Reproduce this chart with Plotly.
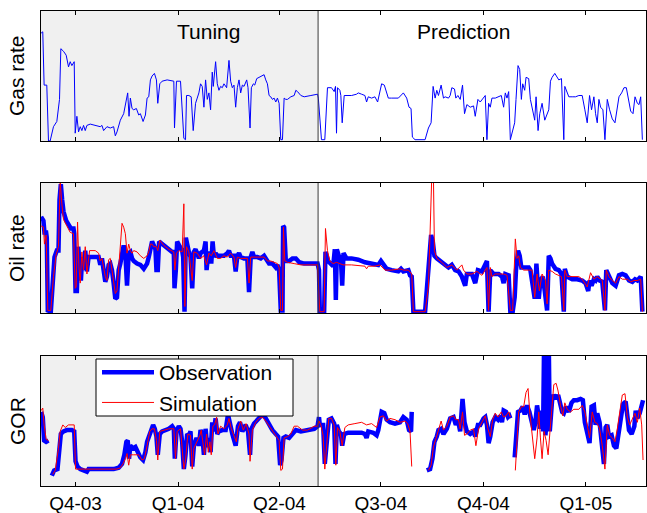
import pandas as pd
import plotly.graph_objects as go

# ---------------- data (day offset since 2003-08-31, value in % of panel scale) -------------
start_date = "2003-08-31"
tuning_end = "2004-05-05 16:00"
x_end = "2005-02-23 23:00"

tick_dates = ["2003-10-01", "2004-01-01", "2004-04-01", "2004-07-01", "2004-10-01", "2005-01-01"]
tick_labels = ["Q4-03", "Q1-04", "Q2-04", "Q3-04", "Q4-04", "Q1-05"]

panel_titles = ["Gas rate", "Oil rate", "GOR"]
phase_labels = ["Tuning", "Prediction"]
series_names = ["Observation", "Simulation"]

gas_rate = [(0.1,83),(1.6,84),(2.8,43),(5.2,43),(6.7,0),(8.2,0),(11.2,11),(14.2,15),(16.6,32),(17.8,71),(20.2,69),(22.6,66),(24.7,57),(26.2,61),(27.7,58),(29.2,60),(29.8,61),(30.7,6),(32.2,19),(33.7,7),(35.2,11),(36.7,8),(38.2,12),(39.7,8),(41.2,12),(44.2,13),(50.2,12),(53.2,11),(54.7,12),(56.2,8),(59.2,11),(62.2,10),(65.2,11),(66.7,4),(68.2,7),(71.2,16),(74.2,21),(76.6,32),(77.8,37),(79.0,19),(80.2,33),(81.7,25),(83.2,24),(85.6,25),(87.7,20),(89.2,21),(91.6,15),(93.7,20),(95.2,33),(96.7,34),(98.2,47),(99.7,50),(101.8,52),(103.6,47),(104.8,29),(106.6,44),(108.7,46),(113.2,47),(117.7,46),(119.2,46),(119.8,10),(121.6,46),(125.2,46),(126.7,21),(128.2,2),(129.7,1),(130.6,35),(132.7,35),(134.8,34),(136.6,8),(138.7,29),(140.2,33),(141.7,37),(143.2,44),(144.7,42),(146.2,26),(147.7,47),(149.2,32),(150.7,37),(152.2,24),(153.7,53),(154.6,42),(156.7,61),(158.2,44),(159.7,39),(161.2,42),(162.7,41),(164.2,44),(166.6,41),(168.7,62),(170.2,46),(171.7,41),(173.2,43),(174.7,26),(176.2,41),(177.7,47),(179.2,37),(180.7,43),(182.2,42),(184.6,47),(185.8,41),(187.6,10),(188.8,41),(190.6,44),(191.8,43),(193.6,48),(195.7,49),(198.7,50),(200.2,51),(201.7,47),(203.2,44),(204.7,35),(206.2,34),(207.7,32),(209.2,33),(210.7,30),(212.2,33),(213.7,29),(215.2,1),(216.7,1),(218.2,33),(219.7,32),(221.2,32),(224.2,34),(227.2,35),(228.7,39),(230.2,38),(233.2,35),(236.2,34),(242.2,35),(248.2,36),
            (248.9,33),(251.7,1),(254.7,1),(257.1,41),(260.7,41),(263.1,38),(264.3,42),(265.2,6),(266.1,41),(268.2,39),(269.1,35),(270.3,14),(272.1,35),(278.7,35),(283.2,36),(284.7,37),(287.7,36),(290.7,35),(292.2,30),(293.7,34),(296.7,33),(299.7,34),(302.1,30),(303.6,35),(305.7,44),(308.1,43),(309.3,39),(311.7,33),(314.7,33),(320.7,33),(325.2,37),(328.2,33),(330.3,26),(332.1,25),(333.3,3),(335.7,1),(344.7,1),(347.7,10),(350.1,14),(351.9,42),(353.7,33),(355.2,39),(356.7,35),(359.1,43),(361.2,33),(362.7,34),(365.7,33),(367.2,35),(368.7,41),(371.1,40),(372.3,33),(374.1,35),(376.2,32),(378.3,43),(380.1,21),(382.2,28),(385.2,26),(388.2,27),(389.7,19),(392.1,32),(394.2,30),(397.2,34),(398.7,35),(400.2,1),(401.7,29),(403.2,26),(404.7,33),(407.7,33),(410.7,34),(413.1,35),(415.2,26),(416.7,37),(418.2,33),(419.7,38),(421.2,1),(423.3,7),(425.1,14),(426.3,32),(428.1,58),(429.6,55),(431.1,32),(432.3,44),(434.1,39),(435.3,49),(437.7,48),(439.2,32),(440.7,26),(443.1,16),(444.3,34),(446.1,8),(447.6,21),(449.7,29),(452.1,16),(454.2,20),(455.7,24),(457.2,46),(458.7,49),(461.1,52),(463.2,49),(464.7,47),(467.1,48),(469.2,1),(470.1,42),(472.2,37),(473.7,34),(476.7,34),(479.7,34),(482.7,35),(485.7,35),(488.1,24),(490.2,14),(492.3,35),(494.1,24),(496.2,34),(497.7,21),(499.2,14),(500.7,32),(502.2,26),(504.3,24),(506.1,1),(508.2,32),(510.3,24),(512.7,17),(515.1,14),(517.2,24),(518.7,34),(521.1,37),(523.2,41),(525.3,41),(527.1,32),(529.2,23),(531.3,21),(533.1,34),(535.2,29),(536.7,28),(538.2,34),(539.7,1)]

oil_obs = [(0.1,74),(2.2,71),(3.1,62),(4.6,62),(5.2,58),(6.1,2),(8.8,1),(10.6,25),(12.1,43),(14.2,48),(15.7,48),(16.6,87),(17.8,99),(19.0,87),(20.2,78),(22.6,71),(24.7,67),(26.8,65),(29.2,65),(29.8,61),(31.0,17),(32.2,17),(33.4,51),(34.6,33),(35.8,25),(37.0,43),(38.2,33),(39.7,48),(41.2,32),(42.7,43),(44.2,43),(47.2,43),(51.7,43),(53.2,37),(54.7,42),(56.2,33),(57.7,24),(59.2,28),(60.7,37),(62.2,38),(63.7,33),(65.2,23),(66.7,11),(68.2,12),(69.7,33),(71.2,38),(72.7,44),(74.2,52),(75.7,46),(77.2,21),(78.7,46),(80.2,47),(81.7,42),(83.2,40),(86.2,38),(89.2,37),(92.2,34),(95.2,38),(96.7,43),(98.2,51),(99.7,55),(101.2,52),(102.7,49),(103.6,33),(104.8,33),(106.0,55),(108.7,53),(111.7,51),(114.7,49),(117.7,47),(119.2,47),(119.8,19),(121.0,33),(122.2,55),(124.6,51),(126.7,48),(127.6,43),(128.8,1),(130.0,58),(131.2,51),(132.7,47),(134.2,43),(135.7,19),(137.2,47),(138.7,49),(140.2,46),(141.7,42),(143.2,46),(144.7,47),(146.2,48),(147.7,55),(148.6,33),(149.8,43),(151.6,47),(152.8,38),(154.0,55),(155.2,43),(156.7,46),(158.2,44),(161.2,44),(164.2,44),(167.2,46),(168.7,48),(170.2,44),(173.2,44),(174.7,32),(176.2,44),(177.7,46),(179.2,43),(182.2,42),(185.2,42),(186.7,16),(188.2,43),(189.7,47),(191.2,43),(194.2,43),(197.2,42),(200.2,44),(203.2,40),(204.7,38),(207.7,38),(210.7,35),(212.2,37),(213.7,33),(215.2,2),(216.7,2),(217.3,67),(218.2,66),(219.7,40),(222.7,40),(225.7,42),(228.7,42),(231.7,39),(236.2,38),(242.2,38),(248.2,38),(249.5,33),(250.2,1),(254.1,1),(255.3,47),(257.7,40),(260.7,38),(262.2,36),(263.7,49),(264.6,10),(265.5,49),(267.3,44),(269.1,42),(270.3,21),(271.5,46),(274.2,42),(278.7,42),(284.7,41),(290.7,39),(296.7,38),(302.7,37),(305.1,40),(307.2,37),(310.2,34),(314.7,33),(320.7,32),(323.1,34),(325.2,32),(329.7,33),(331.2,29),(332.7,28),(334.2,1),(344.7,1),(346.2,15),(348.3,43),(350.1,60),(351.6,55),(353.1,44),(355.2,42),(358.2,40),(361.2,37),(365.7,35),(368.7,37),(371.7,33),(374.7,32),(377.7,28),(380.7,21),(382.2,30),(386.7,30),(389.7,23),(392.1,33),(395.7,32),(400.2,40),(401.7,1),(403.2,33),(406.2,30),(410.7,30),(413.7,28),(415.2,23),(416.7,30),(419.7,29),(421.2,1),(423.3,1),(425.1,12),(426.3,33),(428.1,48),(429.6,44),(431.1,35),(434.7,35),(437.7,35),(439.2,33),(440.7,23),(443.1,11),(444.6,38),(446.7,11),(448.2,25),(450.3,28),(452.1,17),(454.2,2),(455.7,44),(457.2,42),(458.7,38),(461.7,34),(464.7,33),(467.1,30),(469.2,1),(470.1,34),(472.2,28),(476.7,26),(481.2,26),(485.7,25),(488.7,23),(491.1,17),(492.3,25),(494.1,21),(496.2,26),(497.7,25),(499.2,28),(501.3,25),(503.7,24),(506.1,2),(507.3,33),(509.7,28),(512.7,23),(515.7,21),(518.7,29),(521.7,30),(524.7,29),(527.7,25),(530.7,24),(533.1,26),(535.2,25),(538.2,28),(539.7,1)]

oil_sim = [(0.1,67),(2.2,66),(3.1,53),(4.6,60),(6.1,2),(8.8,2),(11.2,28),(13.6,45),(15.7,51),(17.2,102),(18.7,84),(20.2,72),(23.2,67),(26.2,62),(29.2,61),(30.7,19),(31.6,20),(32.8,70),(34.0,36),(35.2,23),(36.7,47),(38.2,33),(39.7,51),(41.2,30),(43.6,48),(45.7,48),(48.7,48),(51.7,46),(53.2,40),(54.7,42),(56.2,33),(57.7,28),(59.2,25),(60.7,41),(62.2,42),(63.7,33),(65.2,25),(66.7,15),(68.2,17),(69.7,35),(71.2,51),(72.7,69),(74.2,66),(75.7,61),(77.2,46),(78.7,53),(80.2,48),(81.7,46),(83.2,48),(86.2,47),(89.2,44),(92.2,42),(95.2,44),(96.7,47),(98.2,53),(99.7,53),(101.2,51),(103.6,51),(104.8,48),(106.6,56),(110.2,52),(114.7,49),(119.2,47),(120.1,33),(121.6,46),(123.7,48),(126.7,47),(128.2,84),(129.1,5),(130.6,51),(132.7,47),(135.7,25),(137.2,47),(140.2,46),(143.2,42),(146.2,44),(148.6,37),(150.7,46),(152.8,44),(155.2,48),(158.2,42),(161.2,42),(164.2,44),(167.2,43),(170.2,46),(173.2,43),(174.7,35),(176.2,43),(179.2,42),(185.2,42),(186.7,23),(188.2,43),(194.2,43),(200.2,43),(203.2,40),(206.2,40),(209.2,39),(212.2,38),(213.7,35),(215.2,2),(216.7,2),(217.6,66),(218.8,40),(221.2,39),(227.2,38),(233.2,37),(242.2,37),(248.2,37),(250.2,1),(254.1,1),(255.3,65),(257.1,48),(259.2,40),(262.2,38),(265.2,39),(268.2,38),(271.2,37),(278.7,37),(290.7,36),(292.2,34),(293.7,36),(299.7,36),(304.2,37),(308.7,33),(314.7,33),(322.2,34),(325.2,33),(329.7,33),(332.7,30),(334.2,1),(344.7,1),(347.7,20),(350.7,105),(352.2,105),(353.1,48),(355.2,42),(359.7,39),(364.2,35),(368.7,37),(373.2,33),(377.7,37),(379.2,33),(382.2,30),(386.7,30),(391.2,32),(395.7,29),(400.2,35),(401.7,2),(403.2,35),(404.7,28),(407.7,30),(412.2,30),(415.2,30),(418.2,29),(421.2,2),(423.3,2),(424.5,33),(425.7,57),(427.2,42),(428.7,44),(430.2,35),(433.2,33),(437.7,33),(440.7,33),(443.1,12),(445.2,30),(447.3,17),(449.7,30),(452.7,25),(454.2,7),(455.7,33),(458.7,32),(461.7,30),(464.7,29),(467.1,28),(469.2,2),(470.1,33),(472.2,28),(476.7,28),(482.7,28),(485.7,26),(490.2,20),(493.2,31),(496.2,26),(499.2,28),(503.7,25),(506.1,2),(507.3,33),(509.7,28),(512.7,25),(515.7,23),(518.7,28),(521.7,26),(526.2,26),(529.2,24),(532.2,25),(535.2,25),(538.2,26),(539.7,1)]

gor_obs = [(0.1,57),(1.6,53),(2.8,35),(4.6,34),(6.7,35),(8.0,None),(9.7,8),(11.8,12),(14.8,13),(16.6,31),(17.8,40),(20.2,42),(23.2,43),(27.7,43),(29.8,42),(31.0,19),(32.8,15),(35.2,13),(38.2,12),(41.2,11),(42.7,13),(53.2,13),(65.2,13),(69.7,14),(72.7,17),(74.8,24),(76.6,34),(77.8,35),(79.0,21),(80.2,31),(82.6,29),(84.7,30),(86.8,26),(89.2,22),(91.6,20),(93.7,26),(95.2,34),(96.7,38),(98.8,44),(100.6,47),(102.1,44),(103.6,38),(104.8,24),(106.6,40),(108.7,42),(111.7,43),(114.7,44),(117.7,46),(119.2,44),(120.1,21),(121.6,42),(123.7,46),(125.2,44),(126.7,34),(128.2,13),(129.7,24),(131.2,40),(132.7,39),(134.2,42),(135.7,15),(137.2,31),(139.6,37),(141.7,31),(143.2,43),(144.7,40),(146.2,24),(147.7,44),(149.2,30),(150.7,37),(152.2,26),(153.7,49),(155.2,42),(156.7,52),(158.2,40),(159.7,42),(162.7,43),(165.7,43),(167.8,55),(169.6,46),(171.7,40),(174.7,31),(176.8,46),(178.6,49),(180.7,42),(183.7,47),(185.8,42),(187.6,24),(188.8,44),(191.2,48),(194.2,51),(196.6,53),(198.7,55),(201.7,52),(204.7,47),(207.7,43),(210.7,40),(212.8,38),(214.6,16),(215.8,20),(217.6,37),(219.7,38),(222.7,37),(225.7,40),(228.7,43),(233.2,42),(239.2,43),(245.2,44),(248.2,46),(249.5,53),(250.2,47),(253.2,47),(254.7,17),(256.2,34),(258.3,51),(260.7,52),(263.1,48),(264.3,17),(265.5,47),(267.3,42),(269.1,40),(270.3,31),(272.1,40),(275.7,41),(281.7,41),(287.7,41),(290.7,40),(292.2,37),(293.7,42),(298.2,41),(301.2,39),(302.7,43),(305.7,57),(308.1,56),(310.2,51),(313.2,49),(317.7,48),(322.2,49),(325.2,53),(328.2,51),(330.3,43),(332.1,42),(332.7,57),(334.0,None),(346.2,12),(349.2,13),(351.3,21),(353.1,34),(355.2,38),(356.7,43),(359.1,44),(361.2,40),(364.2,44),(367.2,52),(370.2,53),(372.3,47),(374.1,51),(376.2,42),(378.3,67),(380.1,49),(382.2,42),(385.2,40),(388.2,42),(389.7,38),(392.1,47),(394.2,47),(397.2,52),(398.7,53),(400.2,47),(401.7,33),(403.2,38),(405.3,49),(407.7,53),(410.1,51),(412.2,54),(413.7,49),(415.2,58),(417.3,57),(419.1,53),(420.3,54),(421.2,52),(423.0,None),(425.1,22),(426.3,42),(428.1,57),(430.2,58),(432.3,61),(434.1,55),(436.2,62),(438.3,57),(440.1,49),(442.2,43),(443.7,49),(445.2,62),(446.7,53),(448.2,44),(449.7,58),(450.6,42),(451.5,110),(452.7,39),(454.2,55),(455.7,110),(456.6,42),(458.7,66),(460.2,70),(462.3,67),(464.1,70),(466.2,63),(467.7,57),(469.2,56),(471.3,61),(473.7,57),(476.1,64),(478.2,66),(481.2,66),(484.2,67),(486.3,66),(488.1,49),(490.2,42),(492.3,33),(494.1,61),(496.2,62),(497.7,47),(499.2,56),(501.3,49),(503.1,31),(505.2,17),(506.7,45),(508.2,47),(509.7,38),(512.1,39),(514.2,31),(516.3,29),(518.1,39),(520.2,52),(522.3,63),(524.7,65),(526.2,51),(527.7,43),(530.1,40),(532.5,46),(533.7,58),(535.2,52),(537.3,56),(538.8,62),(540.3,66)]

gor_sim = [(0.1,58),(1.6,60),(2.8,47),(4.6,36),(6.7,35),(8.0,None),(10.6,9),(12.8,12),(15.7,29),(17.2,42),(19.6,47),(21.7,45),(24.7,47),(27.7,47),(29.8,47),(31.0,13),(33.7,13),(41.2,13),(53.2,13),(68.2,13),(71.2,14),(73.6,17),(75.7,21),(77.2,25),(78.7,16),(80.2,24),(83.2,24),(87.7,24),(90.7,20),(92.8,21),(95.2,31),(97.6,42),(99.7,44),(101.8,44),(103.6,35),(104.8,20),(106.6,42),(110.2,43),(114.7,44),(119.2,44),(120.7,21),(122.2,42),(125.2,44),(126.7,29),(128.2,13),(129.7,20),(131.8,40),(134.2,39),(135.7,13),(137.2,29),(140.2,34),(142.6,39),(143.8,43),(145.6,31),(146.8,24),(148.6,40),(150.1,26),(151.6,34),(152.8,24),(154.3,46),(155.8,47),(157.6,53),(158.8,40),(161.2,46),(164.2,44),(167.2,47),(168.7,52),(170.8,44),(173.2,39),(175.3,34),(176.8,44),(179.2,50),(181.6,43),(184.0,48),(186.7,40),(187.6,19),(189.7,43),(192.7,49),(195.7,52),(198.7,53),(201.7,50),(204.7,46),(207.7,43),(210.7,39),(213.7,35),(215.2,12),(216.7,13),(218.2,37),(221.2,38),(224.2,40),(227.2,46),(230.2,46),(234.7,43),(239.2,43),(245.2,46),(248.2,46),(249.5,50),(251.1,47),(253.2,39),(254.7,13),(256.2,31),(258.3,52),(260.7,52),(263.1,47),(264.6,16),(266.1,45),(268.2,42),(270.3,31),(272.7,45),(275.7,47),(281.7,48),(287.7,49),(292.2,47),(296.7,48),(301.2,45),(304.2,53),(307.2,54),(310.2,50),(313.2,52),(317.7,51),(322.2,49),(326.7,50),(329.1,48),(331.2,42),(332.7,15),(334.0,None),(347.7,12),(350.1,16),(352.2,30),(354.3,37),(356.7,43),(359.1,50),(361.2,43),(364.2,46),(367.2,53),(370.2,54),(372.3,51),(374.7,51),(376.2,44),(378.3,57),(380.1,39),(382.2,40),(385.2,43),(388.2,44),(390.3,31),(392.7,44),(395.7,49),(398.7,54),(401.1,44),(403.2,38),(405.3,51),(407.7,56),(410.1,53),(413.1,57),(415.2,53),(417.3,54),(419.7,57),(421.2,53),(423.0,None),(425.7,12),(427.2,34),(428.7,57),(431.1,61),(433.2,61),(435.3,72),(437.1,75),(438.6,57),(440.7,42),(443.1,21),(445.2,37),(446.7,57),(448.2,37),(449.7,21),(451.5,42),(453.3,35),(455.1,24),(457.2,44),(458.7,60),(460.2,78),(462.3,79),(464.1,73),(466.2,62),(468.3,54),(470.1,64),(472.2,59),(475.2,57),(478.2,59),(482.7,59),(485.7,62),(488.1,57),(490.2,47),(492.3,37),(494.7,57),(497.1,49),(499.2,48),(501.3,44),(503.7,31),(506.1,13),(508.2,47),(510.3,39),(512.7,37),(515.1,34),(517.2,44),(519.3,57),(521.7,70),(524.1,71),(526.2,53),(528.3,47),(530.7,51),(533.1,56),(535.2,49),(537.3,60),(539.1,47),(540.3,20)]

# ---------------- helpers ----------------
t0 = pd.Timestamp(start_date)


def split(pairs):
    days = [p[0] for p in pairs]
    vals = [p[1] for p in pairs]
    dates = t0 + pd.to_timedelta(days, unit="D")
    return dates, vals


BLUE = "#0000ff"
RED = "#ff0000"
FONT = "Liberation Sans, Arial, sans-serif"

fig = go.Figure()

gx, gy = split(gas_rate)
fig.add_trace(go.Scatter(x=gx, y=gy, mode="lines", line=dict(color=BLUE, width=1),
                         showlegend=False, xaxis="x", yaxis="y", hoverinfo="skip"))

ox, oy = split(oil_obs)
fig.add_trace(go.Scatter(x=ox, y=oy, mode="lines", name=series_names[0],
                         line=dict(color=BLUE, width=4.5), xaxis="x2", yaxis="y2"))
sx, sy = split(oil_sim)
fig.add_trace(go.Scatter(x=sx, y=sy, mode="lines", name=series_names[1],
                         line=dict(color=RED, width=1), xaxis="x2", yaxis="y2"))

rx, ry = split(gor_obs)
fig.add_trace(go.Scatter(x=rx, y=ry, mode="lines", line=dict(color=BLUE, width=4.5),
                         connectgaps=False, showlegend=False, xaxis="x3", yaxis="y3"))
qx, qy = split(gor_sim)
fig.add_trace(go.Scatter(x=qx, y=qy, mode="lines", line=dict(color=RED, width=1),
                         connectgaps=False, showlegend=False, xaxis="x3", yaxis="y3"))

# ---------------- layout ----------------
W, H = 647, 513
ml, mr, mt, mb = 41, 1, 11, 27
plot_h = H - mt - mb
plot_w = W - ml - mr
panel_px = [(11, 141), (183, 313), (356, 486)]
domains = [[(486 - b) / plot_h, (486 - t) / plot_h] for t, b in panel_px]


def px_x(p):
    return (p - ml) / plot_w


def px_y(p):
    return (486 - p) / plot_h


tick_vals = [pd.Timestamp(d) for d in tick_dates]
x_range = [t0, pd.Timestamp(x_end)]

common_x = dict(range=x_range, tickvals=tick_vals, ticktext=tick_labels,
                ticks="inside", ticklen=4, tickcolor="black", tickwidth=1,
                showline=True, linecolor="black", linewidth=1, mirror="ticks",
                showgrid=False, zeroline=False, fixedrange=True,
                automargin=False,
                tickfont=dict(family=FONT, size=19, color="black"))
common_y = dict(range=[0, 100], showticklabels=False, ticks="", showline=True,
                linecolor="black", linewidth=1, mirror=True, showgrid=False,
                zeroline=False, fixedrange=True, automargin=False)

layout = dict(
    width=W, height=H,
    margin=dict(l=ml, r=mr, t=mt, b=mb, autoexpand=False),
    paper_bgcolor="white", plot_bgcolor="white",
    font=dict(family=FONT, color="black"),
    showlegend=True,
    legend=dict(x=px_x(97), y=px_y(352), xanchor="left", yanchor="top",
                bgcolor="rgba(0,0,0,0)", borderwidth=0, itemwidth=52,
                font=dict(family=FONT, size=21, color="black"), tracegroupgap=0),
)
for i, dom in enumerate(domains):
    sfx = "" if i == 0 else str(i + 1)
    xa = dict(common_x, domain=[0, 1], anchor="y" + sfx)
    if i < 2:
        xa["showticklabels"] = False
    if i > 0:
        xa["matches"] = "x"
    layout["xaxis" + sfx] = xa
    layout["yaxis" + sfx] = dict(common_y, domain=dom, anchor="x" + sfx)

fig.update_layout(**layout)

# shading for the tuning period and separator line
for i in range(3):
    sfx = "" if i == 0 else str(i + 1)
    fig.add_shape(type="rect", xref="x" + sfx, yref="y" + sfx + " domain",
                  x0=t0, x1=pd.Timestamp(tuning_end), y0=0, y1=1,
                  fillcolor="#f0f0f0", line=dict(width=0), layer="below")
    fig.add_shape(type="line", xref="x" + sfx, yref="y" + sfx + " domain",
                  x0=pd.Timestamp(tuning_end), x1=pd.Timestamp(tuning_end), y0=0, y1=1,
                  line=dict(color="#3a3a3a", width=1), layer="above")

# legend frame (white box with black border, drawn over the data)
fig.add_shape(type="rect", xref="paper", yref="paper",
              x0=px_x(96), x1=px_x(293), y0=px_y(416), y1=px_y(359),
              fillcolor="white", line=dict(color="black", width=1), layer="above")

# phase labels
for label, cx in zip(phase_labels, [208, 463]):
    fig.add_annotation(x=px_x(cx), y=px_y(31), xref="paper", yref="paper",
                       text=label, showarrow=False, font=dict(family=FONT, size=21, color="black"),
                       xanchor="center", yanchor="middle")

# panel titles (y-axis labels)
for (t, b), title in zip(panel_px, panel_titles):
    fig.add_annotation(x=px_x(17), y=px_y((t + b) / 2),
                       xref="paper", yref="paper", text=title, textangle=-90, showarrow=False,
                       font=dict(family=FONT, size=21, color="black"),
                       xanchor="center", yanchor="middle")

fig.write_html("out.html", config={"displayModeBar": False},
               post_script="document.body.style.margin='0px';document.body.style.overflow='hidden';")
